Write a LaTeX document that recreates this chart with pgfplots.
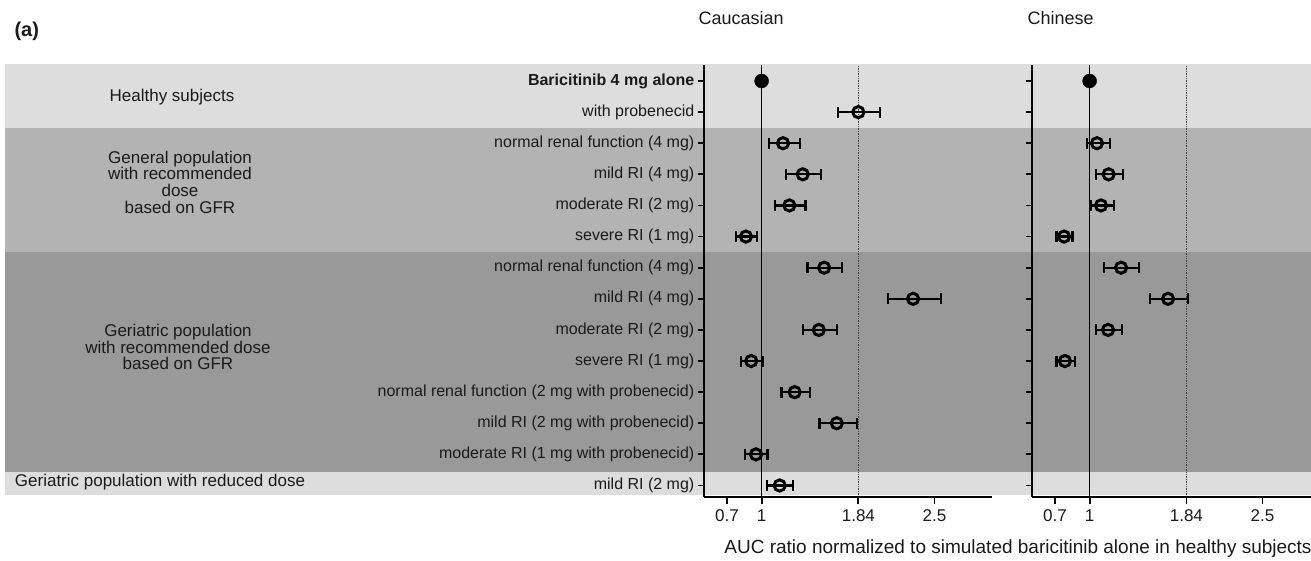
\documentclass[border=0pt]{standalone}
\usepackage{fontspec}
\setmainfont{Liberation Sans}
\usepackage{pgfplots}
\usepackage{pgfplotstable}
\pgfplotsset{compat=1.18}
\definecolor{bandA}{HTML}{DDDDDD}
\definecolor{bandB}{HTML}{B3B3B3}
\definecolor{bandC}{HTML}{999999}
\definecolor{txt}{HTML}{1A1A1A}
\definecolor{dotc}{HTML}{444444}

% Caucasian: y = 15 - row index
\pgfplotstableread{
y x lo hi
13 1.840 1.666 2.030
12 1.186 1.061 1.334
11 1.357 1.212 1.517
10 1.241 1.113 1.381
9 0.864 0.780 0.960
8 1.543 1.398 1.700
7 2.315 2.100 2.554
6 1.497 1.357 1.657
5 0.910 0.821 1.009
4 1.287 1.172 1.418
3 1.653 1.503 1.828
2 0.951 0.855 1.052
1 1.157 1.047 1.276
}\cauc

% Chinese
\pgfplotstableread{
y x lo hi
12 1.064 0.977 1.180
11 1.165 1.056 1.287
10 1.099 1.009 1.209
9 0.778 0.713 0.852
8 1.273 1.125 1.429
7 1.681 1.525 1.855
6 1.160 1.056 1.284
5 0.786 0.713 0.870
}\chin

\pgfplotsset{
  forest/.style={
    scale only axis, height=432pt,
    ymin=0.63, ymax=14.514, xmin=0.5,
    axis lines*=left,
    axis line style={line width=2pt, black},
    xtick={0.7,1,1.84,2.5},
    xticklabels={0.7,1,1.84,2.5},
    ytick={1,...,14},
    tick style={line width=1.8pt, black},
    tick align=outside,
    major tick length=6.5pt,
    clip=false,
    axis on top,
    tick label style={font=\fontsize{16pt}{19pt}\selectfont, text=txt},
    xticklabel style={font=\fontsize{17pt}{19pt}\selectfont, yshift=-3pt},
    yticklabel style={inner sep=0pt, xshift=-3pt},
  },
  errs/.style={
    only marks, mark=o, mark size=5.6pt,
    mark options={line width=3pt, black},
    error bars/.cd, x dir=both, x explicit,
    error bar style={line width=2.2pt, black},
    error mark options={rotate=90, mark size=5.5pt, line width=2.2pt, black},
  },
}

\begin{document}
\begin{tikzpicture}
% ---------------- Caucasian ----------------
\begin{axis}[forest, at={(704pt,-497pt)}, anchor=south west,
  width=288pt, xmax=3.0,
  yticklabels={mild RI (2 mg),
    moderate RI (1 mg with probenecid),
    mild RI (2 mg with probenecid),
    normal renal function (2 mg with probenecid),
    severe RI (1 mg),
    moderate RI (2 mg),
    mild RI (4 mg),
    normal renal function (4 mg),
    severe RI (1 mg),
    moderate RI (2 mg),
    mild RI (4 mg),
    normal renal function (4 mg),
    with probenecid,
    \textbf{Baricitinib 4 mg alone}},
]
% background bands (span full figure width)
\fill[bandA] (axis cs:-5.568,12.5) rectangle (axis cs:5.80,14.55);
\fill[bandB] (axis cs:-5.568,8.5) rectangle (axis cs:5.80,12.5);
\fill[bandC] (axis cs:-5.568,1.44) rectangle (axis cs:5.80,8.5);
\fill[bandA] (axis cs:-5.568,0.69) rectangle (axis cs:5.80,1.44);
\addplot[black, line width=1.5pt] coordinates {(1,0.63) (1,14.514)};
\addplot[dotc, line width=1.4pt, densely dotted] coordinates {(1.84,0.63) (1.84,14.514)};
\addplot[only marks, mark=*, mark size=7pt, black] coordinates {(1,14)};
\addplot[errs] table[x=x, y=y,
  x error plus expr=\thisrow{hi}-\thisrow{x},
  x error minus expr=\thisrow{x}-\thisrow{lo}] {\cauc};
\end{axis}

% ---------------- Chinese ----------------
\begin{axis}[forest, at={(1032pt,-497pt)}, anchor=south west,
  width=281pt, xmax=2.939,
  yticklabels={},
]
\addplot[black, line width=1.5pt] coordinates {(1,0.63) (1,14.514)};
\addplot[dotc, line width=1.4pt, densely dotted] coordinates {(1.84,0.63) (1.84,14.514)};
\addplot[only marks, mark=*, mark size=7pt, black] coordinates {(1,14)};
\addplot[errs] table[x=x, y=y,
  x error plus expr=\thisrow{hi}-\thisrow{x},
  x error minus expr=\thisrow{x}-\thisrow{lo}] {\chin};
\end{axis}

% ---------------- texts ----------------
\begin{scope}[every node/.style={text=txt, font=\fontsize{17pt}{20pt}\selectfont}]
\node[anchor=west, font=\fontsize{20pt}{22pt}\selectfont\bfseries] at (11pt,-31pt) {(a)};
\node[anchor=west, font=\fontsize{18pt}{20pt}\selectfont] at (695pt,-18pt) {Caucasian};
\node[anchor=west, font=\fontsize{18pt}{20pt}\selectfont] at (1024pt,-18pt) {Chinese};
\node at (172pt,-97pt) {Healthy subjects};
\node[align=center, font=\fontsize{17pt}{16.7pt}\selectfont] at (180pt,-182pt) {General population\\with recommended\\dose\\based on GFR};
\node[align=center, font=\fontsize{17pt}{16.7pt}\selectfont] at (178pt,-347pt) {Geriatric population\\with recommended dose\\based on GFR};
\node at (160pt,-482pt) {Geriatric population with reduced dose};
\node[font=\fontsize{19pt}{21pt}\selectfont] at (1018pt,-549pt) {AUC ratio normalized to simulated baricitinib alone in healthy subjects};
\end{scope}

\pgfresetboundingbox
\path[use as bounding box] (0pt,0pt) rectangle (1311pt,-560pt);
\end{tikzpicture}
\end{document}
